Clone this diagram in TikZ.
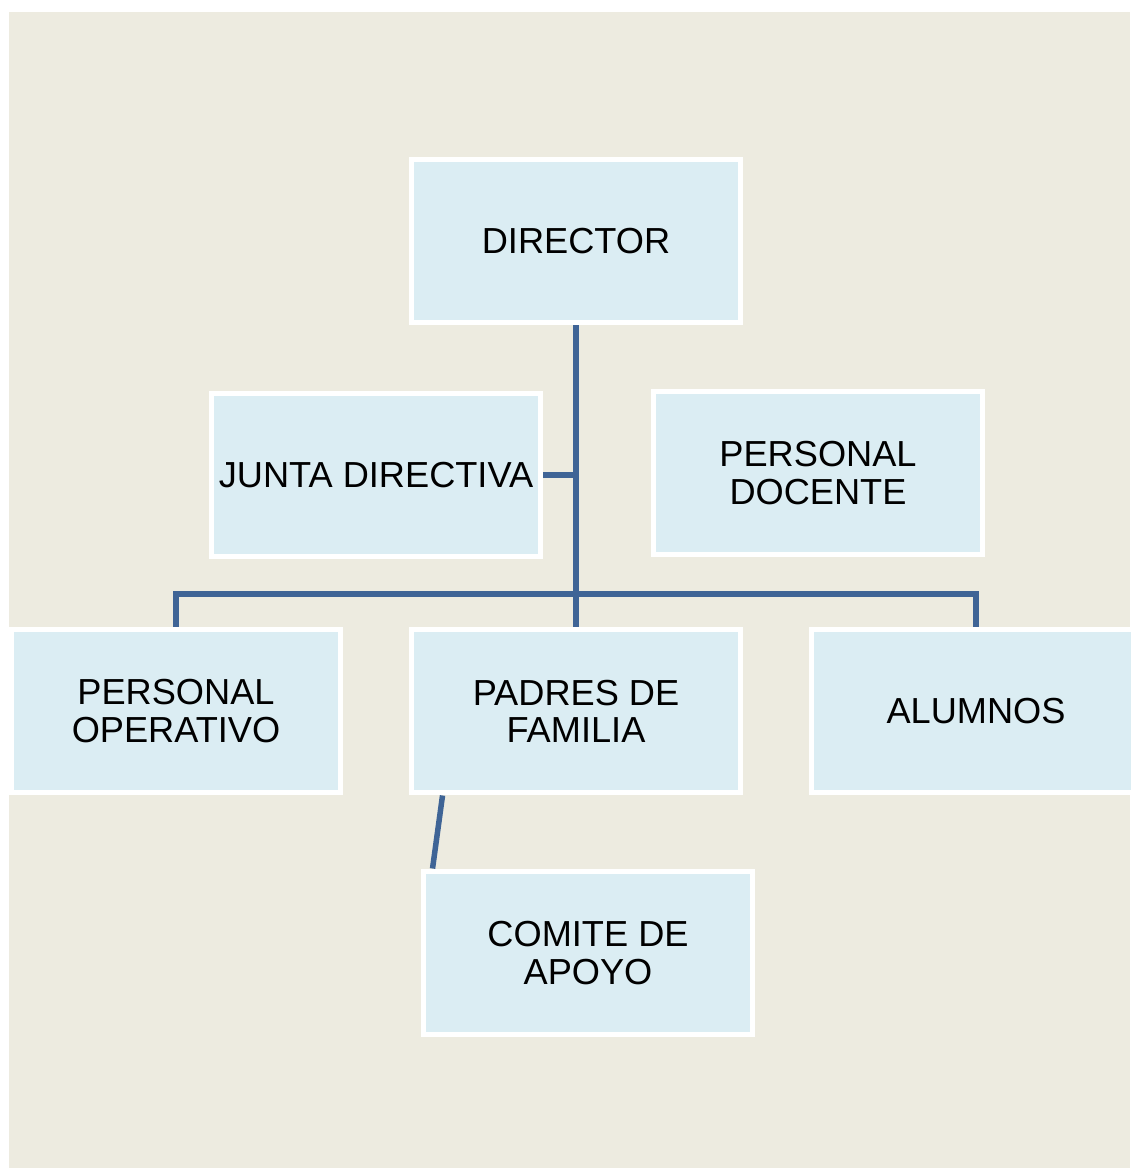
\documentclass[tikz,border=0pt]{standalone}
\usepackage{fontspec}
\setmainfont{Liberation Sans}
\definecolor{fondo}{HTML}{EDEBE0}
\definecolor{caja}{HTML}{DBEDF3}
\definecolor{linea}{HTML}{3F6496}

\begin{document}
\begin{tikzpicture}[x=0.02cm, y=-0.02cm,
    puesto/.style={rectangle, draw=white, line width=1mm, fill=caja, minimum width=6.6cm,
        minimum height=3.28cm, inner sep=0pt, align=center, font=\fontsize{20.6}{21.2}\selectfont},
    enlace/.style={draw=linea, line width=1.1mm}]
    \useasboundingbox (0,0) rectangle (1130,1168);
    \fill[fondo] (9,12) rectangle (1130,1168);
    \node[puesto] (dir) at (576,241) {DIRECTOR};
    \node[puesto] (jun) at (376,475) {JUNTA DIRECTIVA};
    \node[puesto] (doc) at (818,473) {PERSONAL\\DOCENTE};
    \node[puesto] (ope) at (176,711) {PERSONAL\\OPERATIVO};
    \node[puesto] (pad) at (576,711) {PADRES DE\\FAMILIA};
    \node[puesto] (alu) at (976,711) {ALUMNOS};
    \node[puesto] (com) at (588,953) {COMITE DE\\APOYO};
    \coordinate (bus) at (576,594);
    \draw[enlace] (dir.south) -- (pad.north);
    \draw[enlace] (jun.east) -- (jun.east -| dir.south);
    \draw[enlace] (ope.north) |- (bus) -| (alu.north);
    \draw[enlace] ([xshift=0.68cm]pad.south west) -- ([xshift=0.24cm]com.north west);
\end{tikzpicture}
\end{document}
